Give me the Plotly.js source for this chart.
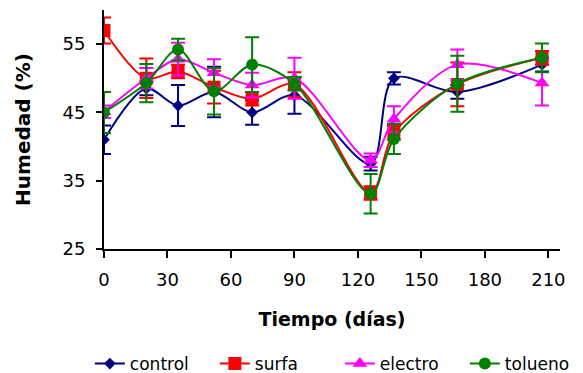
<!DOCTYPE html>
<html>
<head>
<meta charset="utf-8">
<script src="https://cdn.plot.ly/plotly-3.0.1.min.js"></script>
<style>html,body{margin:0;padding:0;background:#fff;}#chart{width:583px;height:373px;}</style>
</head>
<body>
<div id="chart"></div>
<script>
const days = [0, 20, 35, 52, 70, 90, 126, 137, 167, 207];

const controlVals = [41, 48.5, 46, 48, 45, 47.5, 37.5, 50, 48, 52];
const controlErr  = [2.1, 1, 3, 3.7, 1.8, 2.7, 1, 0.9, 1, 1];

const surfaVals = [57, 50, 51, 48.7, 47, 49.1, 33.2, 42, 49.1, 53];
const surfaErr  = [1.9, 2.9, 1, 2.4, 1, 1.8, 1, 1, 3.2, 1];

const electroVals = [45.1, 50, 52.8, 50.8, 49, 50, 38, 44, 52, 49.3];
const electroErr  = [0.9, 1.5, 2.4, 2, 1.8, 3, 1, 1.9, 2.2, 3.3];

const toluenoVals = [45, 49.3, 54.2, 48.1, 52, 49.2, 33.1, 41.1, 49.2, 53];
const toluenoErr  = [3, 2.8, 1.6, 3.4, 4, 1, 2.9, 2.2, 4.1, 2.1];

const seriesNames = ['control', 'surfa', 'electro', 'tolueno'];

const xTicks = [0, 30, 60, 90, 120, 150, 180, 210];
const yTicks = [25, 35, 45, 55];

function mk(name, vals, err, color, symbol, size) {
  return {
    x: days, y: vals, name: name, type: 'scatter', mode: 'lines+markers',
    line: {color: color, width: 2, shape: 'spline', smoothing: 0.9},
    marker: {color: color, symbol: symbol, size: size},
    error_y: {type: 'data', array: err, visible: true, color: color, thickness: 2, width: 7}
  };
}

const traces = [
  mk(seriesNames[0], controlVals, controlErr, '#000080', 'diamond', 9),
  mk(seriesNames[1], surfaVals, surfaErr, '#ff0000', 'square', 13),
  mk(seriesNames[2], electroVals, electroErr, '#ff00ff', 'triangle-up', 13),
  mk(seriesNames[3], toluenoVals, toluenoErr, '#008000', 'circle', 12)
];

const FONT = 'DejaVu Sans, Arial, sans-serif';

const layout = {
  width: 583, height: 373,
  margin: {l: 104, r: 23, t: 10, b: 124, autoexpand: false},
  paper_bgcolor: '#fff', plot_bgcolor: '#fff',
  font: {family: FONT, color: '#000', size: 18},
  showlegend: true,
  legend: {orientation: 'h', x: -0.031, xanchor: 'left', y: -0.406, yanchor: 'top',
           font: {size: 17}, traceorder: 'normal', itemwidth: 30,
           entrywidth: 80, entrywidthmode: 'pixels', bgcolor: 'rgba(0,0,0,0)'},
  xaxis: {
    range: [0, 215.5], tickvals: xTicks, ticktext: xTicks.map(String),
    showline: true, linecolor: '#000', linewidth: 2, mirror: false,
    ticks: 'outside', ticklen: 7, tickwidth: 2, tickcolor: '#000',
    ticklabelstandoff: 6,
    showgrid: false, zeroline: false,
    tickfont: {size: 18},
    title: {text: '<b>Tiempo (días)</b>', font: {size: 19}, standoff: 24}
  },
  yaxis: {
    range: [25, 60], tickvals: yTicks, ticktext: yTicks.map(String),
    showline: true, linecolor: '#000', linewidth: 2,
    ticks: 'outside', ticklen: 6, tickwidth: 2, tickcolor: '#000',
    ticklabelstandoff: 7,
    showgrid: false, zeroline: false,
    tickfont: {size: 18},
    title: {text: '<b>Humedad (%)</b>', font: {size: 20}, standoff: 26}
  },
  yaxis2: {
    range: [25, 60], tickvals: yTicks, overlaying: 'y', anchor: 'x', side: 'left',
    showline: false, ticks: 'inside', ticklen: 6, tickwidth: 2, tickcolor: '#000',
    showticklabels: false, showgrid: false, zeroline: false
  }
};

Plotly.newPlot('chart', traces, layout, {displayModeBar: false, staticPlot: true});
</script>
</body>
</html>
